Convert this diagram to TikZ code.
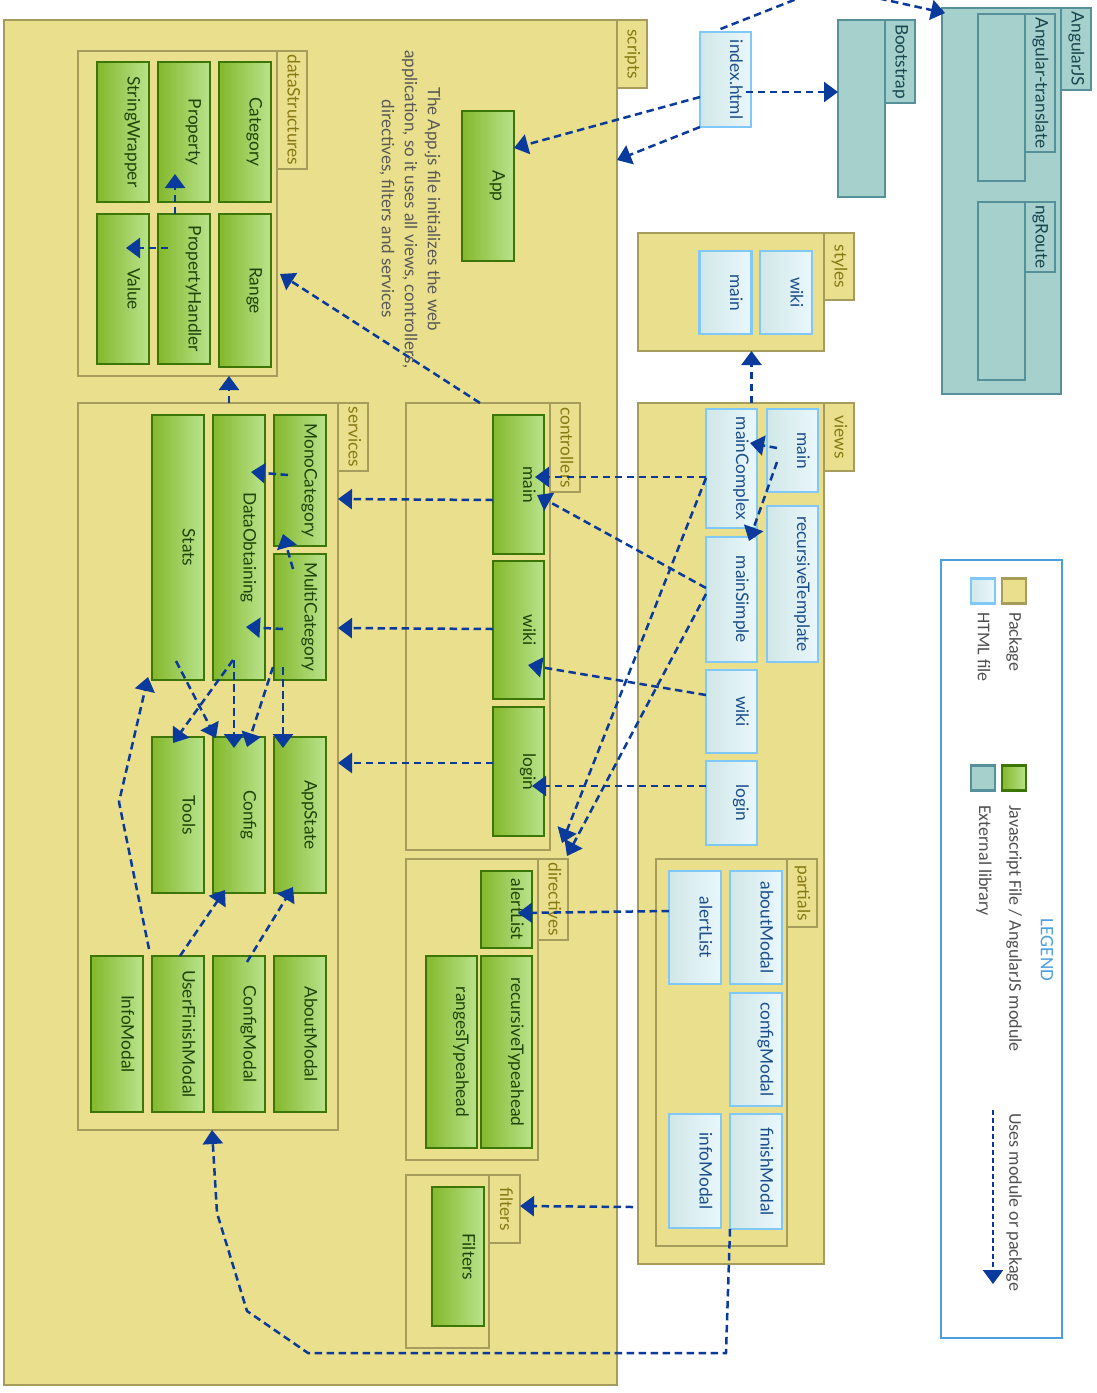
\documentclass[tikz,border=0pt]{standalone}
\usepackage{fontspec}
\usepackage{graphicx}
\setmainfont{Lato}
\newfontfamily\legendfont{Carlito}
\usetikzlibrary{arrows.meta,calc}

\definecolor{pkgfill}{HTML}{EADF8C}
\definecolor{pkgdraw}{HTML}{A69C5C}
\definecolor{pkgtext}{HTML}{857A12}
\definecolor{jsleft}{HTML}{84B82C}
\definecolor{jsright}{HTML}{B9E38C}
\definecolor{jsdraw}{HTML}{3C7508}
\definecolor{jstext}{HTML}{1E4408}
\definecolor{htmlleft}{HTML}{D1E7E7}
\definecolor{htmlright}{HTML}{E9F7FC}
\definecolor{htmldraw}{HTML}{80C8F8}
\definecolor{htmltext}{HTML}{1A4E8C}
\definecolor{extfill}{HTML}{A6D0CC}
\definecolor{extdraw}{HTML}{56909A}
\definecolor{exttext}{HTML}{18464E}
\definecolor{depblue}{HTML}{0A3A9C}
\definecolor{legendblue}{HTML}{4A9FE0}
\definecolor{notegray}{HTML}{585858}
\definecolor{legendgray}{HTML}{505050}

% labels read top to bottom; box labels sit a little towards the right edge
\newcommand\rotlbl[1]{\rotatebox{-90}{\raisebox{0pt}[13pt][22pt]{#1}}}
\newcommand\tablbl[1]{\rotatebox{-90}{\raisebox{0pt}[13pt][4pt]{#1}}}

\begin{document}
\begin{tikzpicture}[x=1pt,y=-1pt,
  sz/.style 2 args={minimum width=#1, minimum height=#2},
  nodebase/.style={inner sep=0pt, outer sep=0pt, line width=2.8pt, font=\fontsize{17.3}{20}\selectfont},
  pkg/.style={nodebase, draw=pkgdraw, fill=pkgfill},
  pkgtab/.style={pkg, text=pkgtext},
  ext/.style={nodebase, draw=extdraw, fill=extfill},
  exttab/.style={ext, text=exttext},
  js/.style={nodebase, draw=jsdraw, left color=jsleft, right color=jsright, text=jstext},
  html/.style={nodebase, draw=htmldraw, left color=htmlleft, right color=htmlright, text=htmltext},
  dep/.style={draw=depblue, line width=2.5pt, dash pattern=on 7.5pt off 4.5pt,
              -{Triangle[length=14pt,width=20pt]}},
  legtext/.style={text=legendgray, inner sep=0pt, font=\legendfont\fontsize{18}{21}\selectfont},
]
\useasboundingbox (0,0) rectangle (1097,1393);
\begin{scope}
\clip (0,0) rectangle (1097,1393);

% ---------------- packages ----------------
\node[pkg, sz={613}{1365}] (scripts) at (310.5,702.5) {};
\node[pkgtab, sz={30}{68}] (scriptsTab) at (632,54) {\tablbl{scripts}};

\node[pkg, sz={199}{325}] (dataStructures) at (177.5,213.5) {};
\node[pkgtab, sz={30}{118}] (dataStructuresTab) at (292,110) {\tablbl{dataStructures}};

\node[pkg, sz={260}{727}] (services) at (208,766.5) {};
\node[pkgtab, sz={30}{68}] (servicesTab) at (353,437) {\tablbl{services}};

\node[pkg, sz={144}{447}] (controllers) at (478,626.5) {};
\node[pkgtab, sz={30}{89}] (controllersTab) at (565,447.5) {\tablbl{controllers}};

\node[pkg, sz={132}{301}] (directives) at (472,1009.5) {};
\node[pkgtab, sz={30}{81}] (directivesTab) at (553,899.5) {\tablbl{directives}};

\node[pkg, sz={83}{173}] (filters) at (447.5,1261.5) {};
\node[pkgtab, sz={31}{68}] (filtersTab) at (504.5,1209) {\tablbl{filters}};

\node[pkg, sz={186}{861}] (views) at (731,833.5) {};
\node[pkgtab, sz={30}{68}] (viewsTab) at (839,437) {\tablbl{views}};

\node[pkg, sz={131}{387}] (partials) at (721.5,1052.5) {};
\node[pkgtab, sz={30}{68}] (partialsTab) at (802,893) {\tablbl{partials}};

\node[pkg, sz={186}{118}] (styles) at (731,292) {};
\node[pkgtab, sz={30}{67}] (stylesTab) at (839,266.5) {\tablbl{styles}};

% ---------------- external libraries ----------------
\node[ext, sz={47}{177}] (bootstrap) at (861.5,108.5) {};
\node[exttab, sz={30}{83}] (bootstrapTab) at (900,61.5) {\tablbl{Bootstrap}};

\node[ext, sz={119}{386}] (angularjs) at (1001.5,201) {};
\node[exttab, sz={30}{82}] (angularjsTab) at (1076,49) {\tablbl{AngularJS}};

\node[ext, sz={47}{167}] (angTranslate) at (1001.5,97.5) {};
\node[exttab, sz={30}{138}] (angTranslateTab) at (1040,83) {\tablbl{Angular-translate}};

\node[ext, sz={47}{178}] (ngRoute) at (1001.5,291) {};
\node[exttab, sz={30}{70}] (ngRouteTab) at (1040,237) {\tablbl{ngRoute}};

% ---------------- javascript files ----------------
\node[js, sz={52}{140}] (category) at (245,132) {\rotlbl{Category}};
\node[js, sz={52}{153}] (range) at (245,290.5) {\rotlbl{Range}};
\node[js, sz={52}{140}] (property) at (184,132) {\rotlbl{Property}};
\node[js, sz={52}{150}] (propHandler) at (184,289) {\rotlbl{PropertyHandler}};
\node[js, sz={52}{140}] (stringWrapper) at (123,132) {\rotlbl{StringWrapper}};
\node[js, sz={52}{150}] (value) at (123,289) {\rotlbl{Value}};

\node[js, sz={52}{150}] (app) at (488,186) {\rotlbl{App}};

\node[js, sz={52}{131}] (monoCat) at (300,480.5) {\rotlbl{MonoCategory}};
\node[js, sz={52}{126}] (multiCat) at (300,617) {\rotlbl{MultiCategory}};
\node[js, sz={52}{265}] (dataObt) at (239,547.5) {\rotlbl{DataObtaining}};
\node[js, sz={52}{265}] (stats) at (178,547.5) {\rotlbl{Stats}};
\node[js, sz={52}{156}] (appState) at (300,815) {\rotlbl{AppState}};
\node[js, sz={52}{156}] (config) at (239,815) {\rotlbl{Config}};
\node[js, sz={52}{156}] (tools) at (178,815) {\rotlbl{Tools}};
\node[js, sz={52}{156}] (aboutModal) at (300,1034) {\rotlbl{AboutModal}};
\node[js, sz={52}{156}] (configModal) at (239,1034) {\rotlbl{ConfigModal}};
\node[js, sz={52}{156}] (userFinish) at (178,1034) {\rotlbl{UserFinishModal}};
\node[js, sz={52}{156}] (infoModal) at (117,1034) {\rotlbl{InfoModal}};

\node[js, sz={51}{139}] (mainCtrl) at (518.5,484.5) {\rotlbl{main}};
\node[js, sz={51}{138}] (wikiCtrl) at (518.5,630) {\rotlbl{wiki}};
\node[js, sz={51}{129}] (loginCtrl) at (518.5,771.5) {\rotlbl{login}};

\node[js, sz={51}{77}] (alertDir) at (506.5,909.5) {\rotlbl{alertList}};
\node[js, sz={51}{192}] (recTypeahead) at (506.5,1052) {\rotlbl{recursiveTypeahead}};
\node[js, sz={51}{192}] (rangesTypeahead) at (451.5,1052) {\rotlbl{rangesTypeahead}};

\node[js, sz={52}{139}] (filtersJs) at (458,1256.5) {\rotlbl{Filters}};

% ---------------- html files ----------------
\node[html, sz={51}{95}] (index) at (725.5,79.5) {\rotlbl{index.html}};

\node[html, sz={52}{83}] (stWiki) at (786,292.5) {\rotlbl{wiki}};
\node[html, sz={52}{83}] (stMain) at (725.5,292.5) {\rotlbl{main}};

\node[html, sz={51}{83}] (vMain) at (792.5,450.5) {\rotlbl{main}};
\node[html, sz={51}{119}] (mainComplex) at (731.5,468.5) {\rotlbl{mainComplex}};
\node[html, sz={51}{156}] (recTemplate) at (792.5,584) {\rotlbl{recursiveTemplate}};
\node[html, sz={51}{125}] (mainSimple) at (731.5,599.5) {\rotlbl{mainSimple}};
\node[html, sz={51}{83}] (vWiki) at (731.5,711.5) {\rotlbl{wiki}};
\node[html, sz={51}{84}] (vLogin) at (731.5,803) {\rotlbl{login}};

\node[html, sz={52}{113}] (aboutModalP) at (756,927.5) {\rotlbl{aboutModal}};
\node[html, sz={52}{113}] (alertListP) at (695,927.5) {\rotlbl{alertList}};
\node[html, sz={52}{113}] (configModalP) at (756,1049.5) {\rotlbl{configModal}};
\node[html, sz={52}{115}] (finishModalP) at (756,1171.5) {\rotlbl{finishModal}};
\node[html, sz={52}{114}] (infoModalP) at (695,1171) {\rotlbl{infoModal}};

% ---------------- note ----------------
\node[text=notegray, rotate=-90, align=center, inner sep=0pt,
      font=\fontsize{17}{23}\selectfont] (appNote) at (410,209)
  {The App.js file initializes the web\\application, so it uses all views, controllers,\\directives, filters and services};

% ---------------- legend ----------------
\node[draw=legendblue, line width=2.6pt, inner sep=0pt, sz={121}{778}] (legend) at (1001.5,949) {};
\node[text=legendblue, inner sep=0pt, font=\legendfont\fontsize{19}{22}\selectfont] (legendTitle) at (1047,950) {\rotatebox{-90}{LEGEND}};
\node[pkg, line width=2.2pt, sz={24}{25}] (swPkg) at (1014,591) {};
\node[html, line width=2.2pt, sz={24}{25}] (swHtml) at (983,591) {};
\node[js, line width=2.2pt, sz={24}{25}] (swJs) at (1014,778) {};
\node[ext, line width=2.2pt, sz={24}{25}] (swExt) at (983,778) {};
\node[legtext, anchor=north] (txtPkg) at (1014,612) {\rotatebox{-90}{Package}};
\node[legtext, anchor=north] (txtHtml) at (984,612) {\rotatebox{-90}{HTML file}};
\node[legtext, anchor=north] (txtJs) at (1014,805) {\rotatebox{-90}{Javascript File / AngularJS module}};
\node[legtext, anchor=north] (txtExt) at (984,805) {\rotatebox{-90}{External library}};
\node[legtext, anchor=north] (txtUses) at (1014,1113) {\rotatebox{-90}{Uses module or package}};
\coordinate (legArrowA) at (993,1110);
\coordinate (legArrowB) at (993,1284);
\draw[dep, dash pattern=on 5pt off 3pt] (legArrowA) -- (legArrowB);

% ---------------- dependencies ----------------
% index.html
\coordinate (indexPeak) at (827,-13);
\draw[dep] (index.west |- 0,97) -- (app.east |- 0,148);
\draw[dep] (index.south west) -- (scripts.east |- 0,160);
\draw[dep] ($(index.center)+(20,12.5)$) -- (bootstrap.west |- 0,92);
\draw[dep] ($(index.north)+(-5,-3)$) -- (indexPeak) -- ($(angularjs.north west)+(3,5)$);

% views
\draw[dep] (views.north -| stMain.east) -- (styles.south -| stMain.east);
\draw[dep] ($(vMain.center)+(-15.5,-2.5)$) -- ($(mainComplex.center)+(18.5,-25.5)$);
\draw[dep] ($(vMain.center)+(-15.5,11.5)$) -- ($(mainSimple.center)+(17.5,-58.5)$);
\draw[dep] (mainComplex.west |- 0,477) -- ($(mainCtrl.center)+(16.5,-7.5)$);
\draw[dep] (mainSimple.west |- 0,588) -- ($(mainCtrl.center)+(18.5,10.5)$);
\draw[dep] (vWiki.west |- 0,695) -- ($(wikiCtrl.center)+(9.5,35)$);
\draw[dep] (vLogin.west |- 0,786) -- ($(loginCtrl.center)+(13.5,14.5)$);
\draw[dep] (mainComplex.west |- 0,478) -- ($(directivesTab.north)+(9,-16)$);
\draw[dep] (mainSimple.west |- 0,594) -- ($(directivesTab.north)+(14,-3)$);
\draw[dep] (alertListP.west |- 0,911) -- ($(alertDir.center)+(11.5,3.5)$);
\draw[dep] ($(views.west |- 0,1207)+(-5,0)$) -- (filtersTab.east |- 0,1206);

\coordinate (fmDown) at (726,1353);
\coordinate (fmLeft) at (308,1353);
\coordinate (fmBend) at (247,1311);
\coordinate (fmUp) at (217,1213);
\draw[dep] (finishModalP.south west) -- (fmDown) -- (fmLeft) -- (fmBend) -- (fmUp) -- ($(services.south)+(4,0)$);

% controllers
\draw[dep] (mainCtrl.west |- 0,500) -- (services.east |- 0,499);
\draw[dep] (wikiCtrl.west |- 0,629) -- (services.east |- 0,628);
\draw[dep] (loginCtrl.west |- 0,763) -- (services.east |- 0,763);
\draw[dep] ($(controllers.north)+(2,0)$) -- ($(dataStructures.east |- 0,272)+(3,2)$);

% services
\draw[dep] ($(services.north)+(21,0)$) -- ($(dataStructures.south)+(51.5,0)$);
\draw[dep] ($(monoCat.center)+(-12,-5.5)$) -- ($(dataObt.center)+(12,-75.5)$);
\draw[dep] ($(multiCat.center)+(-17,12)$) -- ($(dataObt.center)+(7,79.5)$);
\draw[dep] ($(multiCat.center)+(-7,-48)$) -- ($(monoCat.center)+(-17,53.5)$);
\draw[dep] ($(stats.center)+(-2,113.5)$) -- ($(config.center)+(-23,-77)$);
\draw[dep] ($(dataObt.center)+(-6,112.5)$) -- ($(tools.center)+(-5,-72)$);
\draw[dep] ($(dataObt.center)+(-5,112.5)$) -- ($(config.center)+(-5,-67)$);
\draw[dep] ($(multiCat.center)+(-27,50)$) -- ($(config.center)+(8,-68)$);
\draw[dep] ($(multiCat.center)+(-17,50)$) -- ($(appState.center)+(-17,-67)$);
\coordinate (ufBend) at (119,802);
\draw[dep] ($(userFinish.north west)+(-3,-7)$) -- (ufBend) -- ($(stats.south west)+(-4,-3)$);
\draw[dep] ($(userFinish.north)+(2,0)$) -- ($(config.south)+(-14,-3)$);
\draw[dep] ($(configModal.north)+(8,6)$) -- ($(appState.south)+(-7,-6)$);

% dataStructures
\draw[dep] ($(propHandler.north)+(-9,0)$) -- ($(property.south)+(-9,-28)$);
\draw[dep] ($(propHandler.center)+(-16,-41)$) -- ($(value.center)+(3,-41)$);

\end{scope}
\end{tikzpicture}
\end{document}
